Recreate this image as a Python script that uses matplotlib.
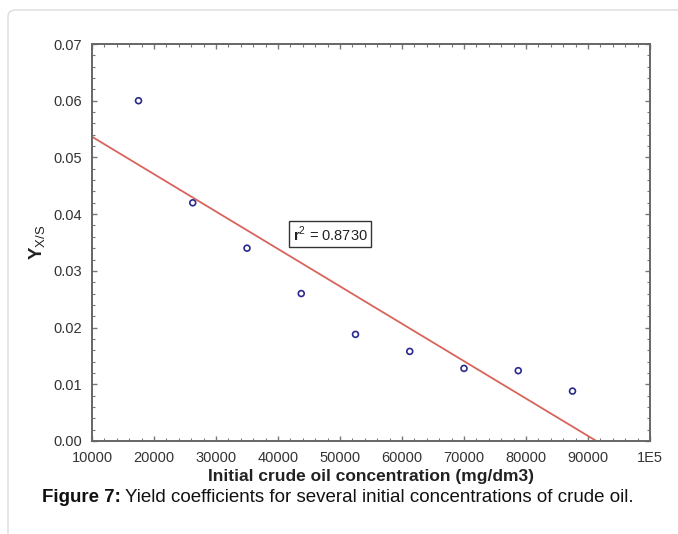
import numpy as np
import matplotlib
matplotlib.use("Agg")
import matplotlib.pyplot as plt
from matplotlib.patches import FancyBboxPatch
from matplotlib.ticker import MultipleLocator, FuncFormatter

plt.rcParams["font.family"] = ["Liberation Sans", "DejaVu Sans"]
plt.rcParams["mathtext.fontset"] = "custom"
plt.rcParams["mathtext.rm"] = "Liberation Sans"
plt.rcParams["mathtext.bf"] = "Liberation Sans:bold"

# initial crude oil concentration (mg/dm3) and yield coefficient Y_X/S
concentration = [17500, 26250, 35000, 43750, 52500, 61250, 70000, 78750, 87500]
yield_xs = [0.060, 0.042, 0.034, 0.026, 0.0188, 0.0158, 0.0128, 0.0124, 0.0088]
r_squared_label = "0.8730"

x_ticks = [10000, 20000, 30000, 40000, 50000, 60000, 70000, 80000, 90000, 100000]
y_ticks = [0.00, 0.01, 0.02, 0.03, 0.04, 0.05, 0.06, 0.07]

fig = plt.figure(figsize=(6.78, 5.34), dpi=100)

# light card border around the figure
card = FancyBboxPatch((8 / 678, -0.1), 1.2, 1.0 - 10 / 534 + 0.1,
                      boxstyle="round,pad=0,rounding_size=0.012",
                      transform=fig.transFigure, facecolor="none",
                      edgecolor="#dcdcdc", linewidth=1.0)
fig.patches.append(card)

ax = fig.add_axes([92 / 678, 1 - 441 / 534, (650 - 92) / 678, (441 - 44) / 534])

# linear regression line
slope, intercept = np.polyfit(concentration, yield_xs, 1)
xs = np.array([10000, 100000])
ax.plot(xs, slope * xs + intercept, color="#d8645c", linewidth=1.3, zorder=2)

ax.scatter(concentration, yield_xs, s=18, facecolors="none",
           edgecolors="#2a2a8c", linewidths=1.2, zorder=3)

ax.set_xlim(10000, 100000)
ax.set_ylim(0.0, 0.07)
ax.set_xticks(x_ticks)
ax.set_yticks(y_ticks)
ax.xaxis.set_minor_locator(MultipleLocator(2000))
ax.yaxis.set_minor_locator(MultipleLocator(0.002))
ax.xaxis.set_major_formatter(FuncFormatter(
    lambda v, p: "1E5" if v >= 100000 else f"{int(v)}"))
ax.yaxis.set_major_formatter(FuncFormatter(lambda v, p: f"{v:.2f}"))

ax.tick_params(which="both", direction="in", top=True, right=True,
               colors="#777777", labelcolor="#333333", labelsize=10.5)
ax.tick_params(which="major", length=3.5, width=1.0)
ax.tick_params(which="minor", length=2, width=0.8)
ax.tick_params(axis="x", which="major", pad=7)
ax.tick_params(axis="y", which="major", pad=7)
for sp in ax.spines.values():
    sp.set_color("#666666")
    sp.set_linewidth(1.4)

ax.set_xlabel("Initial crude oil concentration (mg/dm3)", fontsize=12.5,
              fontweight="bold", color="#222222", labelpad=3)
ax.set_ylabel(r"$\mathbf{Y}_{\mathrm{X/S}}$", fontsize=13.5, color="#222222",
              labelpad=4)

ax.text(42400, 0.0365, r"$\mathbf{r}^2$ = " + r_squared_label, fontsize=10.5,
        color="#222222", ha="left", va="center",
        bbox=dict(boxstyle="square,pad=0.25", facecolor="white",
                  edgecolor="#333333", linewidth=1.0))

# caption below the chart
cap_y = 1 - 497 / 534
t = fig.text(42 / 678, cap_y, "Figure 7:", fontsize=13.5, fontweight="bold",
             color="#111111", va="center")
fig.canvas.draw()
bb = t.get_window_extent()
fig.text(bb.x1 / fig.bbox.width + 4 / 678, cap_y,
         "Yield coefficients for several initial concentrations of crude oil.",
         fontsize=13.5, color="#111111", va="center")

fig.savefig("out.png", dpi=100)
